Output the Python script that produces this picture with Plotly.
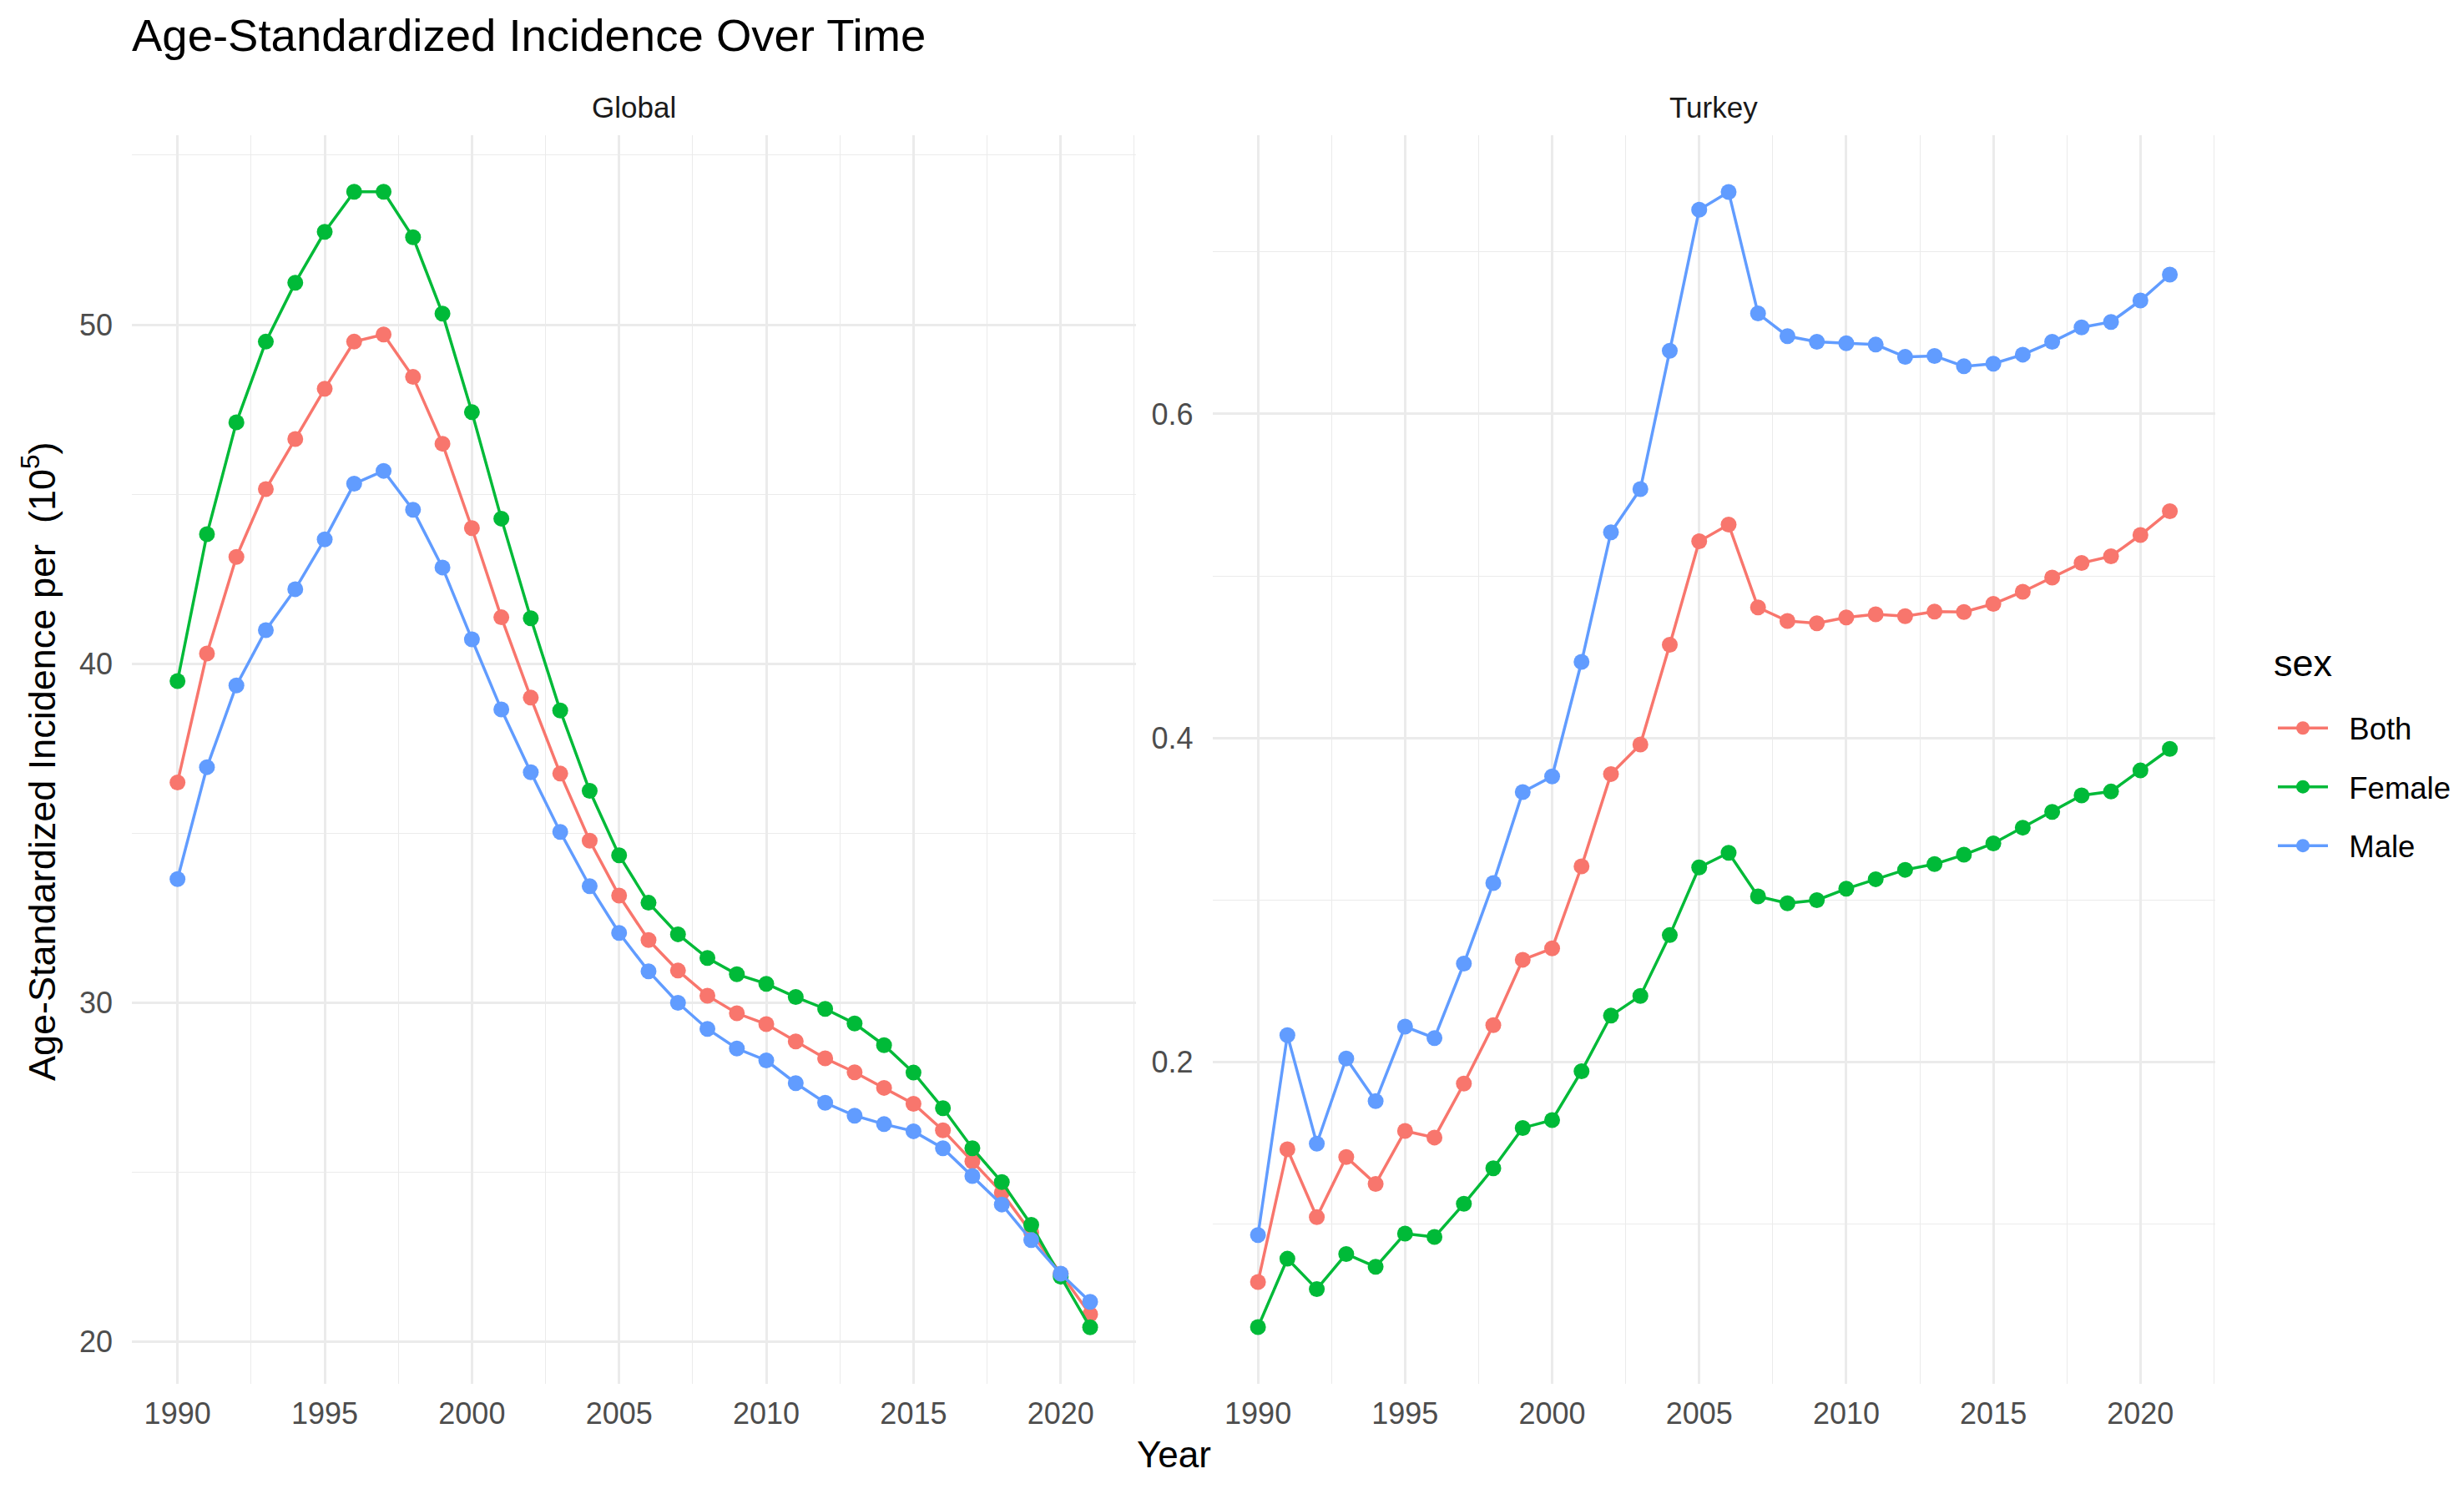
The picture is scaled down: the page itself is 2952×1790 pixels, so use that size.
import plotly.graph_objects as go

years = list(range(1990, 2022))
sexes = ["Both", "Female", "Male"]
colors = {"Both": "#F8766D", "Female": "#00BA38", "Male": "#619CFF"}

global_both = [36.5, 40.3, 43.15, 45.15, 46.63, 48.11, 49.50, 49.71, 48.46, 46.49,
               44.00, 41.37, 39.0, 36.76, 34.78, 33.16, 31.85, 30.95, 30.21, 29.69,
               29.37, 28.86, 28.36, 27.95, 27.49, 27.02, 26.24, 25.32, 24.40, 23.22,
               22.0, 20.81]
global_female = [39.49, 43.82, 47.12, 49.50, 51.24, 52.74, 53.92, 53.92, 52.58, 50.33,
                 47.42, 44.28, 41.34, 38.62, 36.25, 34.35, 32.95, 32.02, 31.32, 30.84,
                 30.56, 30.17, 29.82, 29.39, 28.75, 27.94, 26.89, 25.71, 24.71, 23.45,
                 21.92, 20.43]
global_male = [33.65, 36.95, 39.36, 40.99, 42.20, 43.67, 45.31, 45.69, 44.54, 42.84,
               40.72, 38.65, 36.80, 35.04, 33.44, 32.06, 30.93, 30.0, 29.23, 28.65,
               28.30, 27.63, 27.05, 26.67, 26.42, 26.21, 25.71, 24.89, 24.05, 23.0,
               22.01, 21.18]

turkey_both = [0.0643, 0.1462, 0.1044, 0.1415, 0.1249, 0.1576, 0.1535, 0.1868, 0.2228, 0.2632,
               0.2702, 0.3208, 0.3778, 0.396, 0.4576, 0.5214, 0.5317, 0.4806, 0.4722, 0.4708,
               0.4744, 0.4764, 0.4752, 0.478, 0.4778, 0.4828, 0.4903, 0.499, 0.508, 0.5122,
               0.5253, 0.540]
turkey_female = [0.0365, 0.0787, 0.06, 0.0816, 0.0737, 0.0942, 0.0921, 0.1126, 0.1345, 0.1594,
                 0.1643, 0.1944, 0.2287, 0.2409, 0.2784, 0.3202, 0.3292, 0.3023, 0.298, 0.30,
                 0.307, 0.3129, 0.3187, 0.3222, 0.328, 0.335, 0.3447, 0.3544, 0.3646, 0.367,
                 0.380, 0.3933]
turkey_male = [0.0933, 0.2167, 0.1497, 0.2023, 0.176, 0.2219, 0.2149, 0.2608, 0.3105, 0.3667,
               0.3763, 0.447, 0.527, 0.5536, 0.639, 0.726, 0.737, 0.662, 0.648, 0.6445,
               0.6436, 0.6428, 0.6352, 0.6358, 0.6294, 0.631, 0.6366, 0.6445, 0.6534, 0.6568,
               0.670, 0.686]

global_data = {"Both": global_both, "Female": global_female, "Male": global_male}
turkey_data = {"Both": turkey_both, "Female": turkey_female, "Male": turkey_male}

W, H = 2952, 1790
FONT = "Liberation Sans, Arial, sans-serif"
PAD = "\u00a0\u00a0"  # small gap between legend key and label


def px(x):
    return x / W


def py(y):
    return 1 - y / H


fig = go.Figure()
for s in sexes:
    fig.add_trace(go.Scatter(
        x=years, y=global_data[s], mode="lines+markers", name=PAD + s, legendgroup=s,
        line=dict(color=colors[s], width=3.5), marker=dict(color=colors[s], size=19),
        xaxis="x", yaxis="y", showlegend=True))
for s in sexes:
    fig.add_trace(go.Scatter(
        x=years, y=turkey_data[s], mode="lines+markers", name=PAD + s, legendgroup=s,
        line=dict(color=colors[s], width=3.5), marker=dict(color=colors[s], size=19),
        xaxis="x2", yaxis="y2", showlegend=False))

grid = "#EBEBEB"
tickfont = dict(family=FONT, size=36, color="#4D4D4D")
ydom = [py(1658), py(162)]

xcommon = dict(range=[1988.45, 2022.55], tickmode="linear", tick0=1990, dtick=5,
               showgrid=True, gridcolor=grid, gridwidth=2.5, zeroline=False,
               showline=False, ticks="", tickfont=tickfont, ticklabelstandoff=11,
               minor=dict(dtick=2.5, tick0=1990, showgrid=True, gridcolor=grid, gridwidth=1.3))

fig.update_layout(
    width=W, height=H,
    margin=dict(l=0, r=0, t=0, b=0),
    paper_bgcolor="white", plot_bgcolor="white",
    font=dict(family=FONT, color="#000000"),
    xaxis=dict(domain=[px(158), px(1360.7)], anchor="y", **xcommon),
    xaxis2=dict(domain=[px(1452.5), px(2654.2)], anchor="y2", **xcommon),
    yaxis=dict(domain=ydom, anchor="x", range=[18.76, 55.59], tickmode="linear",
               tick0=20, dtick=10, showgrid=True, gridcolor=grid, gridwidth=2.5,
               zeroline=False, showline=False, ticks="", tickfont=tickfont,
               ticklabelstandoff=22,
               minor=dict(dtick=5, tick0=20, showgrid=True, gridcolor=grid, gridwidth=1.3)),
    yaxis2=dict(domain=ydom, anchor="x2", range=[0.0015, 0.772], tickmode="linear",
                tick0=0, dtick=0.2, showgrid=True, gridcolor=grid, gridwidth=2.5,
                zeroline=False, showline=False, ticks="", tickfont=tickfont,
                ticklabelstandoff=22,
                minor=dict(dtick=0.1, tick0=0, showgrid=True, gridcolor=grid, gridwidth=1.3)),
    title=dict(text="Age-Standardized Incidence Over Time", x=px(158), xanchor="left",
               y=py(42), yanchor="middle", xref="paper", yref="paper",
               font=dict(family=FONT, size=54.5, color="#000000")),
    legend=dict(x=px(2724), xanchor="left", y=py(842), yanchor="top",
                font=dict(family=FONT, size=36.5, color="#000000"),
                tracegroupgap=20, bgcolor="rgba(0,0,0,0)", itemwidth=60),
    showlegend=True,
)

annotations = [
    dict(text="Global", x=px(759), y=py(128), xref="paper", yref="paper",
         showarrow=False, xanchor="center", yanchor="middle",
         font=dict(family=FONT, size=35, color="#1A1A1A")),
    dict(text="Turkey", x=px(2053), y=py(128), xref="paper", yref="paper",
         showarrow=False, xanchor="center", yanchor="middle",
         font=dict(family=FONT, size=35, color="#1A1A1A")),
    dict(text="Year", x=px(1406), y=py(1742), xref="paper", yref="paper",
         showarrow=False, xanchor="center", yanchor="middle",
         font=dict(family=FONT, size=44, color="#000000")),
    dict(text="Age-Standardized Incidence per \u00a0(10<sup>5</sup>)", x=px(47), y=py(912),
         xref="paper", yref="paper", showarrow=False, textangle=-90,
         xanchor="center", yanchor="middle",
         font=dict(family=FONT, size=45, color="#000000")),
    dict(text="sex", x=px(2722), y=py(795), xref="paper", yref="paper",
         showarrow=False, xanchor="left", yanchor="middle",
         font=dict(family=FONT, size=45, color="#000000")),
]
fig.update_layout(annotations=annotations)

fig.write_html("out.html", config={"displayModeBar": False},
               post_script="document.body.style.margin='0px';")
